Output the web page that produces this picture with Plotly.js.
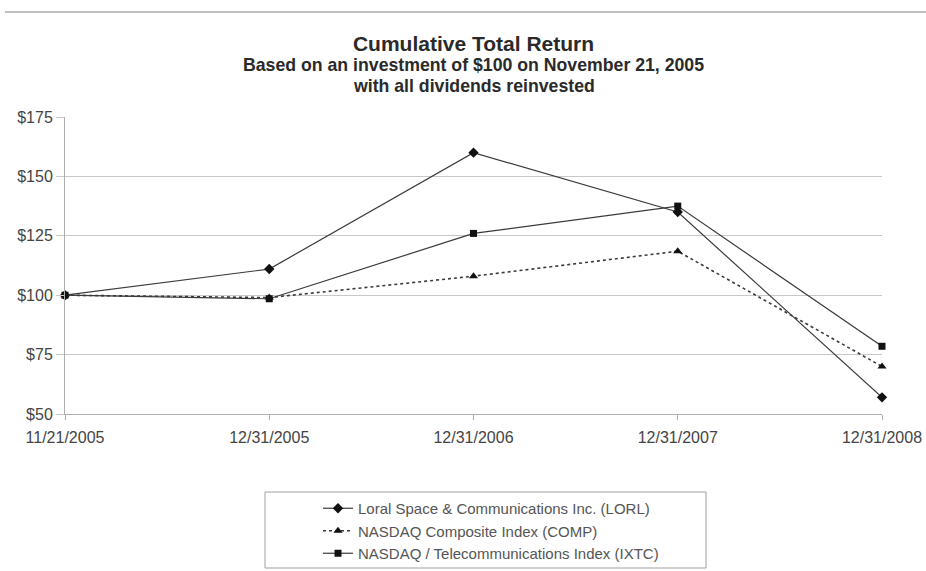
<!DOCTYPE html>
<html>
<head>
<meta charset="utf-8">
<script src="https://cdn.plot.ly/plotly-3.0.1.min.js"></script>
<style>html,body{margin:0;padding:0;background:#fff;}#chart{width:926px;height:571px;}</style>
</head>
<body>
<div id="chart"></div>
<script>
const dates = ["11/21/2005", "12/31/2005", "12/31/2006", "12/31/2007", "12/31/2008"];
const lorl = [100, 111, 160, 135, 57];
const comp = [100, 99, 108, 118.5, 70];
const ixtc = [100, 98.5, 126, 137.5, 78.5];
const seriesNames = [
  "Loral Space & Communications Inc. (LORL)",
  "NASDAQ Composite Index (COMP)",
  "NASDAQ / Telecommunications Index (IXTC)"
];
const yTicks = [50, 75, 100, 125, 150, 175];
const yTickText = yTicks.map(v => "$" + v);

const FONT = "Liberation Sans, Arial, Helvetica, sans-serif";
const lineCol = "#3a3a3a";
const markCol = "#111";

const traces = [
  {x: dates, y: lorl, name: seriesNames[0], mode: "lines+markers", cliponaxis: false,
   line: {color: lineCol, width: 1.2},
   marker: {symbol: "diamond", size: 8, color: markCol}},
  {x: dates, y: comp, name: seriesNames[1], mode: "lines+markers", cliponaxis: false,
   line: {color: lineCol, width: 1.6, dash: "dot"},
   marker: {symbol: "triangle-up", size: 8, color: markCol}},
  {x: dates, y: ixtc, name: seriesNames[2], mode: "lines+markers", cliponaxis: false,
   line: {color: lineCol, width: 1.2},
   marker: {symbol: "square", size: 7, color: markCol}}
];

const layout = {
  width: 926, height: 571,
  margin: {l: 65, r: 44, t: 117, b: 157, autoexpand: false},
  paper_bgcolor: "#fff", plot_bgcolor: "#fff",
  font: {family: FONT, color: "#444", size: 16},
  title: {
    text: "<b>Cumulative Total Return</b>",
    font: {family: FONT, size: 21, color: "#2a2a2a"},
    x: 0.5, xanchor: "center", xref: "paper",
    y: 1 - 43.5 / 571, yref: "container", yanchor: "middle"
  },
  annotations: [
    {text: "<b>Based on an investment of $100 on November 21, 2005</b>", xref: "paper", yref: "paper",
     x: 0.5, y: (414 - 65.5) / 297, xanchor: "center", yanchor: "middle", showarrow: false,
     font: {family: FONT, size: 17.7, color: "#2a2a2a"}},
    {text: "<b>with all dividends reinvested</b>", xref: "paper", yref: "paper",
     x: 0.5, y: (414 - 86) / 297, xanchor: "center", yanchor: "middle", showarrow: false,
     font: {family: FONT, size: 17.7, color: "#2a2a2a"}}
  ],
  xaxis: {
    type: "category", range: [0, dates.length - 1],
    showgrid: false, zeroline: false,
    showline: true, linecolor: "#b0b0b0", linewidth: 1,
    ticks: "outside", ticklen: 5, tickcolor: "#b0b0b0",
    ticklabelstandoff: 4,
    tickfont: {family: FONT, size: 16, color: "#444"},
    fixedrange: true
  },
  yaxis: {
    range: [50, 175], tickmode: "array", tickvals: yTicks, ticktext: yTickText,
    showgrid: true, gridcolor: "#c8c8c8", gridwidth: 1,
    zeroline: false,
    showline: true, linecolor: "#b0b0b0", linewidth: 1,
    ticks: "outside", ticklen: 8, tickcolor: "#c8c8c8",
    tickfont: {family: FONT, size: 16, color: "#444"},
    fixedrange: true
  },
  showlegend: true,
  legend: {
    x: (318 - 65) / 817, xanchor: "left",
    y: (414 - 492) / 297, yanchor: "top",
    bgcolor: "rgba(0,0,0,0)", borderwidth: 0,
    font: {family: FONT, size: 15, color: "#555"},
    tracegroupgap: 0
  },
  shapes: [
    {type: "rect", xref: "paper", yref: "paper",
     x0: (265 - 65) / 817, x1: (706 - 65) / 817,
     y0: (414 - 492) / 297, y1: (414 - 568) / 297,
     line: {color: "#a0a0a0", width: 1}, fillcolor: "rgba(0,0,0,0)"},
    {type: "line", xref: "paper", yref: "paper",
     x0: (5 - 65) / 817, x1: (926 - 65) / 817,
     y0: (414 - 12) / 297, y1: (414 - 12) / 297,
     line: {color: "#a8a8a8", width: 1.5}}
  ]
};

Plotly.newPlot("chart", traces, layout, {displayModeBar: false, staticPlot: true});
</script>
</body>
</html>
